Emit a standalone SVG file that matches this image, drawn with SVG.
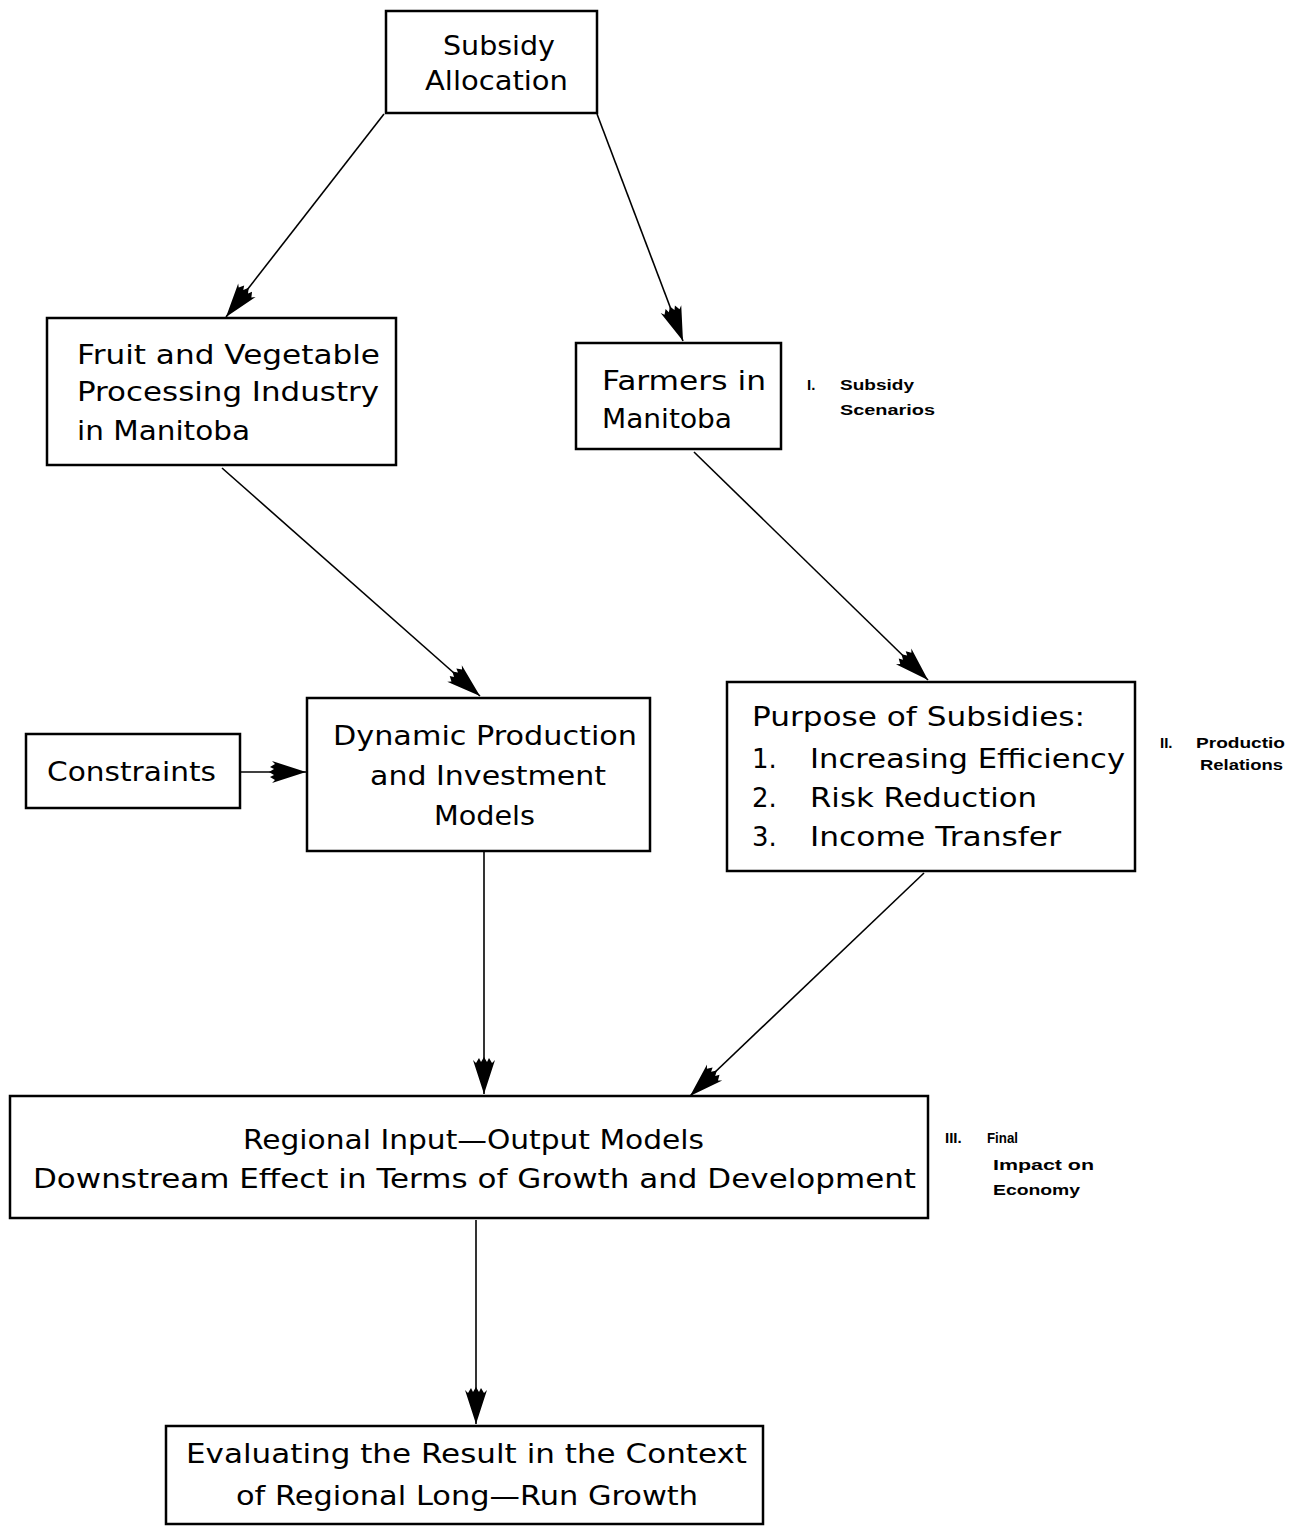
<svg xmlns="http://www.w3.org/2000/svg" width="1292" height="1528" viewBox="0 0 1292 1528">
<style>
.box{fill:#fff;stroke:#000;stroke-width:2.5}
.t{font-family:"DejaVu Sans","Liberation Sans",sans-serif;font-size:26px;fill:#000}
.s{font-family:"Liberation Sans",sans-serif;font-size:15px;font-weight:bold;fill:#000}
.c{stroke:#000;stroke-width:1.6;fill:none;marker-end:url(#ah)}
</style>
<defs>
<marker id="ah" markerUnits="userSpaceOnUse" markerWidth="40" markerHeight="26" viewBox="-38 -13 40 26" refX="0" refY="0" orient="auto">
<path d="M0,0 L-34,-11 L-31,-8 L-36,-5 L-32,-3 L-37,0 L-32,3 L-36,5 L-31,8 L-34,11 Z" fill="#000"/>
</marker>
</defs>
<rect width="1292" height="1528" fill="#fff"/>
<g id="connectors">
<path class="c" d="M384,114 L226,317"/>
<path class="c" d="M597,114 L683,341"/>
<path class="c" d="M222,468 L480,696"/>
<path class="c" d="M694,452 L928,680"/>
<path class="c" d="M240,772 L306,772"/>
<path class="c" d="M484,852 L484,1094"/>
<path class="c" d="M924,873 L690,1096"/>
<path class="c" d="M476,1220 L476,1424"/>
</g>
<g id="subsidy-allocation">
<rect class="box" x="386" y="11" width="211" height="102"/>
<text class="t" x="443" y="55" textLength="112" lengthAdjust="spacingAndGlyphs">Subsidy</text>
<text class="t" x="425" y="90" textLength="143" lengthAdjust="spacingAndGlyphs">Allocation</text>
</g>
<g id="fruit-vegetable">
<rect class="box" x="47" y="318" width="349" height="147"/>
<text class="t" x="77" y="364" textLength="303" lengthAdjust="spacingAndGlyphs">Fruit and Vegetable</text>
<text class="t" x="77" y="401" textLength="302" lengthAdjust="spacingAndGlyphs">Processing Industry</text>
<text class="t" x="77" y="440" textLength="173" lengthAdjust="spacingAndGlyphs">in Manitoba</text>
</g>
<g id="farmers">
<rect class="box" x="576" y="343" width="205" height="106"/>
<text class="t" x="602" y="390" textLength="164" lengthAdjust="spacingAndGlyphs">Farmers in</text>
<text class="t" x="602" y="428" textLength="130" lengthAdjust="spacingAndGlyphs">Manitoba</text>
</g>
<g id="constraints">
<rect class="box" x="26" y="734" width="214" height="74"/>
<text class="t" x="47" y="781" textLength="169" lengthAdjust="spacingAndGlyphs">Constraints</text>
</g>
<g id="dynamic">
<rect class="box" x="307" y="698" width="343" height="153"/>
<text class="t" x="333" y="745" textLength="304" lengthAdjust="spacingAndGlyphs">Dynamic Production</text>
<text class="t" x="370" y="785" textLength="236" lengthAdjust="spacingAndGlyphs">and Investment</text>
<text class="t" x="434" y="825" textLength="101" lengthAdjust="spacingAndGlyphs">Models</text>
</g>
<g id="purpose">
<rect class="box" x="727" y="682" width="408" height="189"/>
<text class="t" x="752" y="726" textLength="333" lengthAdjust="spacingAndGlyphs">Purpose of Subsidies:</text>
<text class="t" x="752" y="768">1.</text>
<text class="t" x="810" y="768" textLength="315" lengthAdjust="spacingAndGlyphs">Increasing Efficiency</text>
<text class="t" x="752" y="807">2.</text>
<text class="t" x="810" y="807" textLength="227" lengthAdjust="spacingAndGlyphs">Risk Reduction</text>
<text class="t" x="752" y="846">3.</text>
<text class="t" x="810" y="846" textLength="251" lengthAdjust="spacingAndGlyphs">Income Transfer</text>
</g>
<g id="regional">
<rect class="box" x="10" y="1096" width="918" height="122"/>
<text class="t" x="243" y="1149" textLength="461" lengthAdjust="spacingAndGlyphs">Regional Input—Output Models</text>
<text class="t" x="33" y="1188" textLength="883" lengthAdjust="spacingAndGlyphs">Downstream Effect in Terms of Growth and Development</text>
</g>
<g id="evaluating">
<rect class="box" x="166" y="1426" width="597" height="98"/>
<text class="t" x="186" y="1463" textLength="561" lengthAdjust="spacingAndGlyphs">Evaluating the Result in the Context</text>
<text class="t" x="236" y="1505" textLength="462" lengthAdjust="spacingAndGlyphs">of Regional Long—Run Growth</text>
</g>
<g id="labels">
<text class="s" x="807" y="390">I.</text>
<text class="s" x="840" y="390" textLength="74" lengthAdjust="spacingAndGlyphs">Subsidy</text>
<text class="s" x="840" y="415" textLength="95" lengthAdjust="spacingAndGlyphs">Scenarios</text>
<text class="s" x="1160" y="748">II.</text>
<text class="s" x="1196" y="748" textLength="89" lengthAdjust="spacingAndGlyphs">Productio</text>
<text class="s" x="1200" y="770" textLength="83" lengthAdjust="spacingAndGlyphs">Relations</text>
<text class="s" x="945" y="1143">III.</text>
<text class="s" x="987" y="1143" textLength="31" lengthAdjust="spacingAndGlyphs">Final</text>
<text class="s" x="993" y="1170" textLength="101" lengthAdjust="spacingAndGlyphs">Impact on</text>
<text class="s" x="993" y="1195" textLength="87" lengthAdjust="spacingAndGlyphs">Economy</text>
</g>
</svg>
